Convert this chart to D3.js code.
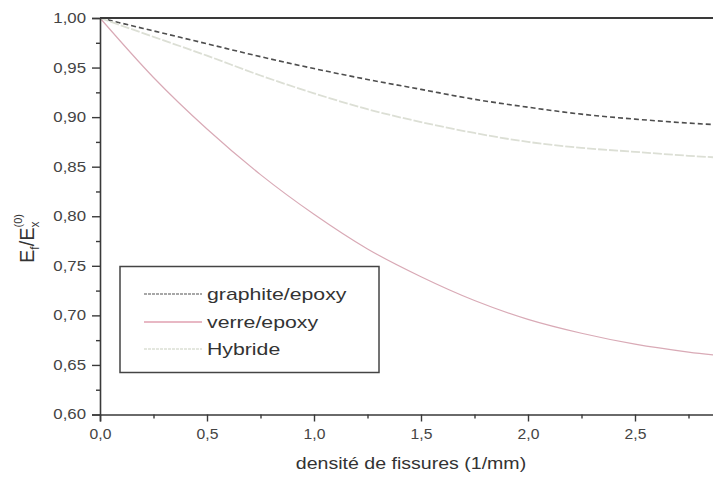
<!DOCTYPE html>
<html>
<head>
<meta charset="utf-8">
<script src="https://cdn.jsdelivr.net/npm/d3@7"></script>
<style>
  html, body { margin: 0; padding: 0; background: #fff; }
  svg { display: block; font-family: "Liberation Sans", Arial, sans-serif; }
</style>
</head>
<body>
<svg id="chart" width="713" height="480"></svg>
<script>
// Crack density (1/mm)
const density = [0, 0.25, 0.5, 0.75, 1.0, 1.25, 1.5, 1.75, 2.0, 2.25, 2.5, 2.75, 3.0];
// Normalised stiffness E_f / E_x^(0) for each laminate
const graphiteEpoxy = [1.000, 0.987, 0.974, 0.961, 0.949, 0.938, 0.928, 0.918, 0.910, 0.903, 0.898, 0.894, 0.891];
const verreEpoxy    = [1.000, 0.940, 0.888, 0.842, 0.802, 0.767, 0.739, 0.715, 0.696, 0.682, 0.671, 0.663, 0.657];
const hybride       = [1.000, 0.981, 0.962, 0.942, 0.924, 0.908, 0.895, 0.884, 0.875, 0.869, 0.865, 0.861, 0.858];

const seriesNames = ["graphite/epoxy", "verre/epoxy", "Hybride"];
const xTicks = [0, 0.5, 1.0, 1.5, 2.0, 2.5];
const xMinorTicks = [0.25, 0.75, 1.25, 1.75, 2.25, 2.75];
const yTicks = [0.60, 0.65, 0.70, 0.75, 0.80, 0.85, 0.90, 0.95, 1.00];
const yMinorTicks = [0.625, 0.675, 0.725, 0.775, 0.825, 0.875, 0.925, 0.975];

const svg = d3.select("#chart");
const plotLeft = 100, plotTop = 18, plotBottom = 414.5;
const x = d3.scaleLinear().domain([0, 3]).range([plotLeft, plotLeft + 642]);
const y = d3.scaleLinear().domain([0.60, 1.00]).range([plotBottom, plotTop]);

const axisColor = "#3a3a3a";
const textColor = "#333";
const comma = (d, digits) => d.toFixed(digits).replace(".", ",");

// stretch text horizontally by a factor
function widen(sel, k) {
  sel.each(function () {
    const w = this.getComputedTextLength();
    d3.select(this).attr("textLength", w * k).attr("lengthAdjust", "spacingAndGlyphs");
  });
}

// clip region for curves
svg.append("clipPath").attr("id", "plotClip")
  .append("rect").attr("x", plotLeft).attr("y", plotTop - 2)
  .attr("width", 713 - plotLeft).attr("height", plotBottom - plotTop + 4);

// curves
const line = (vals) => d3.line()
  .x((d, i) => x(density[i]))
  .y(d => y(d))
  .curve(d3.curveMonotoneX)(vals);

const styles = [
  { data: graphiteEpoxy, color: "#4e4e4e", width: 1.6, dash: "5,3", legendColor: "#8a8a8a" },
  { data: verreEpoxy,    color: "#d9aab6", width: 1.2, dash: null,  legendColor: "#e0a0b0" },
  { data: hybride,       color: "#dcdfd5", width: 1.8, dash: "9,2", legendColor: "#dcdfd5" }
];

const plot = svg.append("g").attr("clip-path", "url(#plotClip)");
styles.forEach(s => {
  plot.append("path")
    .attr("d", line(s.data))
    .attr("fill", "none")
    .attr("stroke", s.color)
    .attr("stroke-width", s.width)
    .attr("stroke-dasharray", s.dash);
});

// top frame line
svg.append("line")
  .attr("x1", plotLeft).attr("x2", 713)
  .attr("y1", y(1.0)).attr("y2", y(1.0))
  .attr("stroke", axisColor).attr("stroke-width", 2);

// y axis
const yAxis = svg.append("g").attr("transform", `translate(${plotLeft},0)`)
  .call(d3.axisLeft(y).tickValues(yTicks).tickSize(8).tickPadding(6).tickFormat(d => comma(d, 2)));
const yMinor = svg.append("g").attr("transform", `translate(${plotLeft},0)`)
  .call(d3.axisLeft(y).tickValues(yMinorTicks).tickSize(4).tickFormat(""));
yMinor.select(".domain").remove();

// x axis
const xAxis = svg.append("g").attr("transform", `translate(0,${plotBottom})`)
  .call(d3.axisBottom(x).tickValues(xTicks).tickSize(7).tickPadding(8).tickFormat(d => comma(d, 1)));
const xMinor = svg.append("g").attr("transform", `translate(0,${plotBottom})`)
  .call(d3.axisBottom(x).tickValues(xMinorTicks).tickSize(4).tickFormat(""));
xMinor.select(".domain").remove();

svg.selectAll(".domain").attr("stroke", axisColor).attr("stroke-width", 1.6);
svg.selectAll(".tick line").attr("stroke", axisColor).attr("stroke-width", 1.4);
svg.selectAll(".tick text")
  .attr("fill", "#444")
  .style("font-family", "'Liberation Sans', Arial, sans-serif")
  .style("font-size", "14px");
yAxis.selectAll(".tick text").call(widen, 1.2);
xAxis.selectAll(".tick text").call(widen, 1.12);

// axis titles
svg.append("text")
  .attr("x", 411).attr("y", 469)
  .attr("text-anchor", "middle")
  .attr("fill", textColor)
  .style("font-size", "17px")
  .text("densité de fissures (1/mm)")
  .call(widen, 1.15);

const yTitle = svg.append("text")
  .attr("transform", "translate(34,263) rotate(-90)")
  .attr("fill", textColor)
  .style("font-size", "20px");
yTitle.append("tspan").text("E");
yTitle.append("tspan").attr("dy", 5).style("font-size", "12px").text("f");
yTitle.append("tspan").attr("dy", -5).text("/E");
yTitle.append("tspan").attr("dy", 5).style("font-size", "12px").text("x");
yTitle.append("tspan").attr("dx", -6).attr("dy", -17).style("font-size", "11px").text("(0)");

// legend
const legend = svg.append("g");
legend.append("rect")
  .attr("x", 120).attr("y", 266.5).attr("width", 259).attr("height", 106)
  .attr("fill", "#fff").attr("stroke", "#444").attr("stroke-width", 1.5);

const legendY = [294, 322, 349];
seriesNames.forEach((name, i) => {
  const s = styles[i];
  legend.append("line")
    .attr("x1", 144).attr("x2", 202)
    .attr("y1", legendY[i]).attr("y2", legendY[i])
    .attr("stroke", s.legendColor).attr("stroke-width", 1.4)
    .attr("stroke-dasharray", s.dash ? "3,1" : null);
  legend.append("text")
    .attr("x", 207).attr("y", legendY[i] + 6)
    .attr("fill", textColor)
    .style("font-size", "17px")
    .text(name)
    .call(widen, 1.25);
});
</script>
</body>
</html>
